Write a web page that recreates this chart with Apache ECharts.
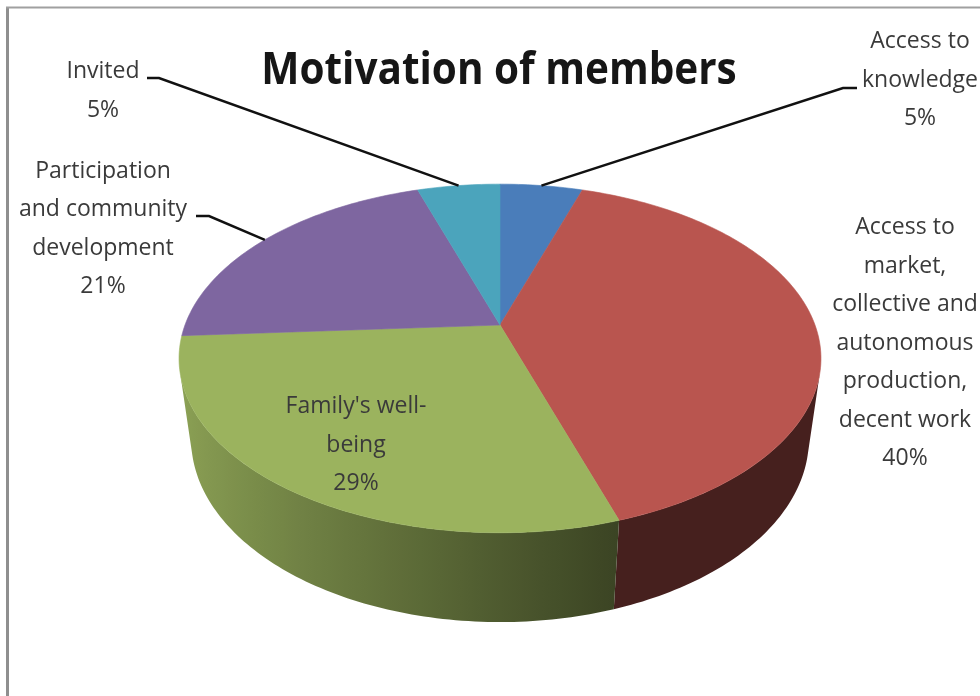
<!DOCTYPE html>
<html><head><meta charset="utf-8">
<script src="https://cdn.jsdelivr.net/npm/echarts/dist/echarts.min.js"></script>
<style>html,body{margin:0;padding:0;background:#fff}#c{width:980px;height:696px}</style>
</head><body><div id="c"></div>
<script>
// ---- data ----
const categories = ['Access to knowledge', 'Access to market, collective and autonomous production, decent work', "Family's well-being", 'Participation and community development', 'Invited'];
const values = [5, 40, 29, 21, 5];
const labelLines = ['Access to\nknowledge', 'Access to\nmarket,\ncollective and\nautonomous\nproduction,\ndecent work', "Family's well-\nbeing", 'Participation\nand community\ndevelopment', 'Invited'];
const titleText = 'Motivation of members';

// ---- style / layout ----
const colors = ['#4a7dba', '#b9554f', '#9bb35e', '#7e66a0', '#4ba4bc'];
const labelPos = [[920, 80], [905, 343], [356, 445], [103, 229], [103, 91]];
const leaderElbows = [[[857, 88], [843, 88]], null, null, [[196, 216], [209, 216]], [[147, 78], [159, 78]]];
const VIEW = { cx: 500, cy: 325, S: 315, D: 4.41, sinP: 0.533, cosP: 0.846, T: 0.313 };
const FONT = 'Open Sans';

const total = values.reduce((a, b) => a + b, 0);
const cum = [0];
values.forEach(v => cum.push(cum[cum.length - 1] + v));

function proj(theta, r, h) {
  const X = r * Math.sin(theta), Z = -r * Math.cos(theta), Y = h;
  const yc = Y * VIEW.cosP - Z * VIEW.sinP;
  const zc = Y * VIEW.sinP + Z * VIEW.cosP;
  const f = VIEW.D / (VIEW.D - zc);
  return [VIEW.cx + VIEW.S * X * f, VIEW.cy - VIEW.S * yc * f];
}
function sliceAngles(i) {
  return [cum[i] / total * 2 * Math.PI, cum[i + 1] / total * 2 * Math.PI];
}
function hexRgb(h) { return [parseInt(h.substr(1, 2), 16), parseInt(h.substr(3, 2), 16), parseInt(h.substr(5, 2), 16)]; }
function shade(h, b) {
  const c = hexRgb(h).map(v => Math.round(Math.min(255, v * b)));
  return 'rgb(' + c.join(',') + ')';
}
function wallB(theta) {
  const X = Math.sin(theta);
  const s = Math.min(1, Math.max(0, (0.3 - X) / 1.3));
  return 0.38 + 0.54 * s;
}
const visMin = Math.acos(-1 / (VIEW.D * VIEW.cosP));
const visMax = 2 * Math.PI - visMin;

function renderWall(params, api) {
  const i = params.dataIndex;
  const [a0, a1] = sliceAngles(i);
  const s = Math.max(a0, visMin), e = Math.min(a1, visMax);
  if (!(e > s)) return { type: 'group', children: [] };
  const n = Math.max(4, Math.ceil((e - s) / (Math.PI / 180)));
  const top = [], bot = [];
  for (let k = 0; k <= n; k++) {
    const t = s + (e - s) * k / n;
    top.push(proj(t, 1, 0));
    bot.push(proj(t, 1, -VIEW.T));
  }
  const pts = top.concat(bot.slice().reverse());
  let xmin = Infinity, xmax = -Infinity;
  pts.forEach(p => { xmin = Math.min(xmin, p[0]); xmax = Math.max(xmax, p[0]); });
  const stops = [];
  for (let k = 0; k <= n; k += Math.max(1, Math.floor(n / 24))) {
    const t = s + (e - s) * k / n;
    const x = proj(t, 1, 0)[0];
    stops.push({ offset: Math.min(1, Math.max(0, (x - xmin) / Math.max(1, xmax - xmin))), color: shade(colors[i], wallB(t)) });
  }
  stops.sort((p, q) => p.offset - q.offset);
  const fill = new echarts.graphic.LinearGradient(0, 0, 1, 0, stops);
  return {
    type: 'polygon', shape: { points: pts },
    style: { fill: fill, stroke: null }
  };
}
function renderTop(params, api) {
  const i = params.dataIndex;
  const [a0, a1] = sliceAngles(i);
  const n = Math.max(4, Math.ceil((a1 - a0) / (Math.PI / 180)));
  const pts = [proj(0, 0, 0)];
  for (let k = 0; k <= n; k++) pts.push(proj(a0 + (a1 - a0) * k / n, 1, 0));
  return {
    type: 'polygon', shape: { points: pts },
    style: { fill: colors[i], stroke: colors[i], lineWidth: 0.6 }
  };
}
function renderLabel(params, api) {
  const i = params.dataIndex;
  const v = api.value(0);
  const [a0, a1] = sliceAngles(i);
  const pct = Math.round(v / total * 100) + '%';
  const children = [{
    type: 'text',
    x: labelPos[i][0], y: labelPos[i][1],
    style: {
      text: labelLines[i] + '\n' + pct,
      fill: '#3a3a3a', fontFamily: FONT, fontSize: 23, lineHeight: 38.5,
      align: 'center', verticalAlign: 'middle'
    }
  }];
  if (leaderElbows[i]) {
    const rim = proj((a0 + a1) / 2, 1, 0);
    children.push({
      type: 'polyline',
      shape: { points: leaderElbows[i].concat([rim]) },
      style: { stroke: '#111', lineWidth: 2.5, fill: null }
    });
  }
  return { type: 'group', children };
}

const pieData = values.map((v, i) => ({ name: categories[i], value: [v] }));
const chart = echarts.init(document.getElementById('c'));
chart.setOption({
  animation: false,
  backgroundColor: '#ffffff',
  graphic: [
    { type: 'line', shape: { x1: 7.5, y1: 7, x2: 7.5, y2: 700 }, style: { stroke: '#8f8f8f', lineWidth: 3 } },
    { type: 'line', shape: { x1: 6, y1: 7.5, x2: 980, y2: 7.5 }, style: { stroke: '#a0a0a0', lineWidth: 2 } },
    {
      type: 'text', x: 499, y: 71, scaleX: 0.92,
      style: { text: titleText, fill: '#161616', fontFamily: FONT, fontWeight: 'bold', fontSize: 44, align: 'center', verticalAlign: 'middle' }
    }
  ],
  series: [
    { type: 'custom', name: 'walls', coordinateSystem: 'none', z: 1, renderItem: renderWall, data: pieData, silent: true },
    { type: 'custom', name: 'tops', coordinateSystem: 'none', z: 2, renderItem: renderTop, data: pieData, silent: true },
    { type: 'custom', name: 'labels', coordinateSystem: 'none', z: 3, renderItem: renderLabel, data: pieData, silent: true }
  ]
});
</script></body></html>
